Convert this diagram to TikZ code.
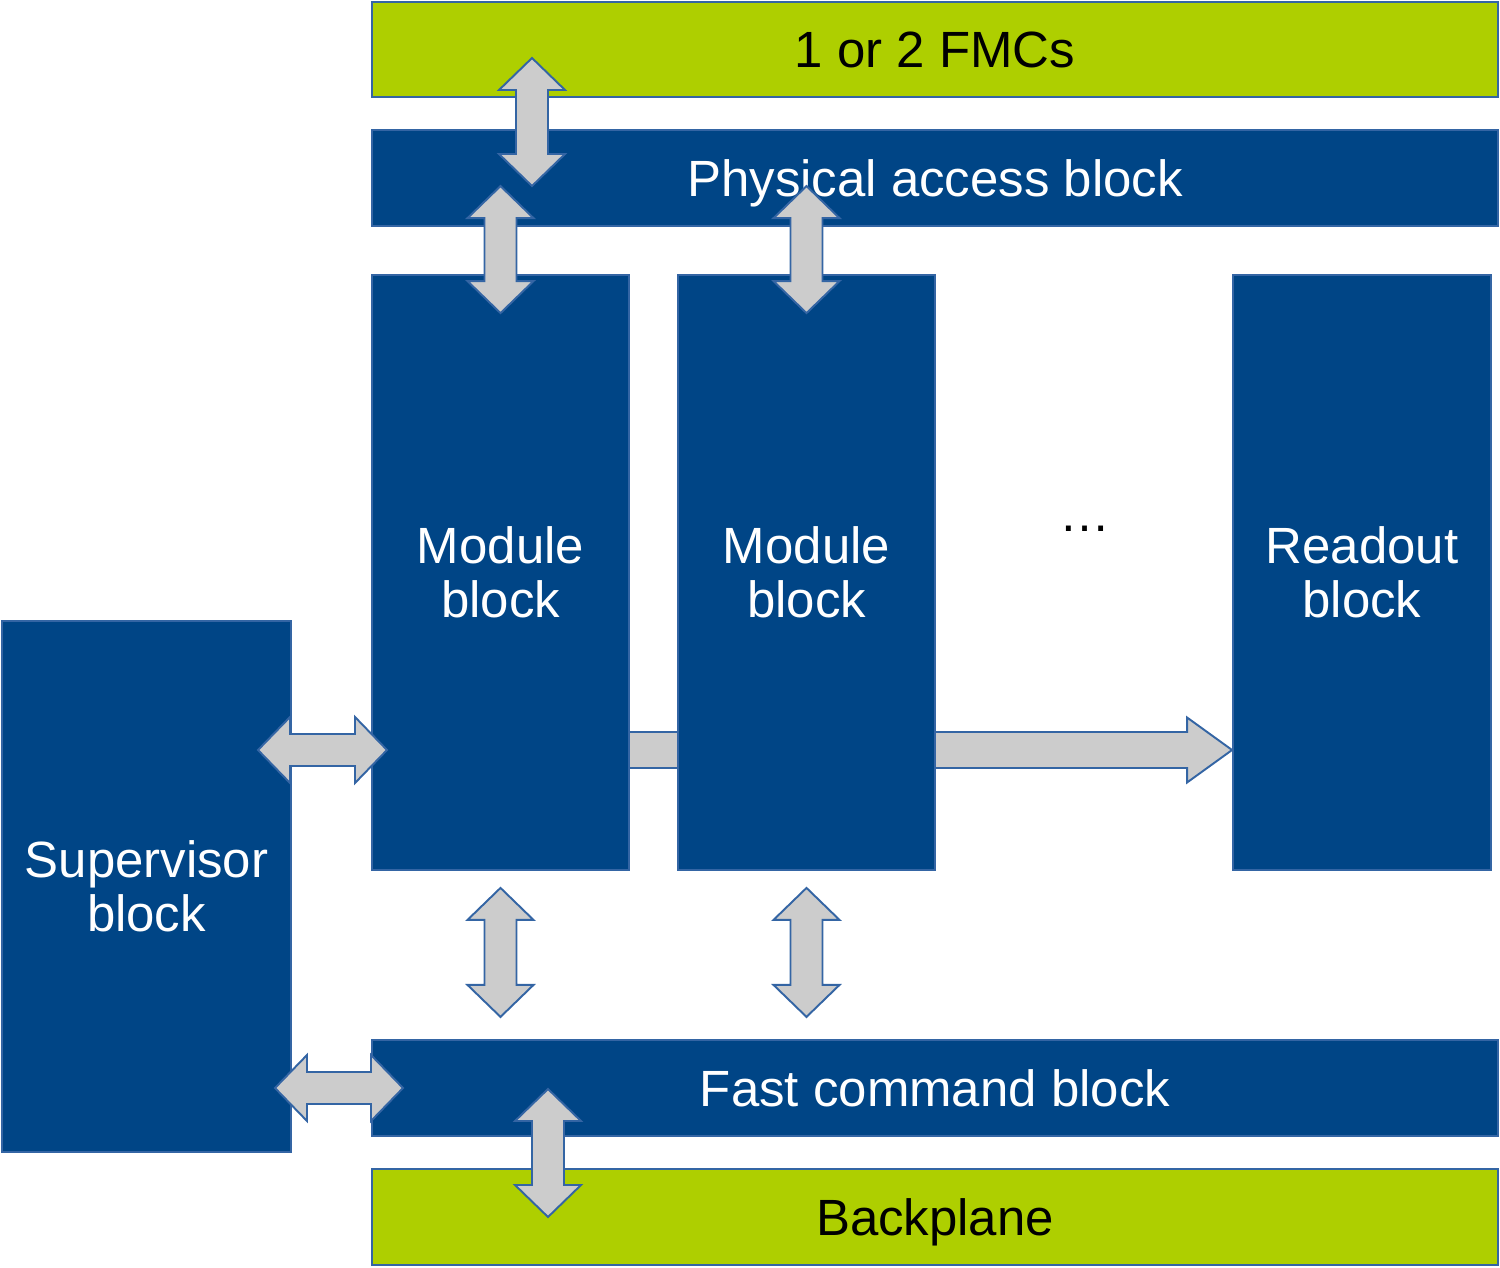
\documentclass[tikz,border=0pt]{standalone}
\usepackage{fontspec}
\setmainfont{Liberation Sans}
\usetikzlibrary{calc,backgrounds}

\definecolor{dkblue}{HTML}{004586}
\definecolor{edgeblue}{HTML}{3465A4}
\definecolor{limegreen}{HTML}{AECF00}
\definecolor{arrgray}{HTML}{CCCCCC}

\tikzset{
	blk/.style={draw=edgeblue, line width=1.1pt, fill=dkblue, text=white,
		align=center, inner sep=0pt, font=\fontsize{29}{31}\selectfont},
	bluebar/.style={blk, text depth=0pt, minimum width=22.52cm, minimum height=1.92cm},
	greenbar/.style={bluebar, fill=limegreen, text=black},
	fatarr/.style={draw=edgeblue, line width=1.1pt, fill=arrgray, line join=miter}
}

% fat double arrow between two points
\newcommand{\fatdbl}[2]{%
	\coordinate (fa) at (#1); \coordinate (fb) at (#2);
	\coordinate (ha) at ($(fa)!0.64cm!(fb)$);
	\coordinate (hb) at ($(fb)!0.64cm!(fa)$);
	\draw[fatarr] (fa) -- ($(ha)!0.66cm!90:(fb)$) -- ($(ha)!0.32cm!90:(fb)$)
		-- ($(hb)!0.32cm!-90:(fa)$) -- ($(hb)!0.66cm!-90:(fa)$) -- (fb)
		-- ($(hb)!0.66cm!90:(fa)$) -- ($(hb)!0.32cm!90:(fa)$)
		-- ($(ha)!0.32cm!-90:(fb)$) -- ($(ha)!0.66cm!-90:(fb)$) -- cycle;}
% fat single arrow, tip at the second point
\newcommand{\fatone}[2]{%
	\coordinate (fa) at (#1); \coordinate (fb) at (#2);
	\coordinate (hb) at ($(fb)!0.9cm!(fa)$);
	\draw[fatarr] ($(fa)!0.36cm!90:(fb)$) -- ($(hb)!0.36cm!-90:(fa)$)
		-- ($(hb)!0.65cm!-90:(fa)$) -- (fb) -- ($(hb)!0.65cm!90:(fa)$)
		-- ($(hb)!0.36cm!90:(fa)$) -- ($(fa)!0.36cm!-90:(fb)$) -- cycle;}

\begin{document}
\begin{tikzpicture}[x=0.02cm, y=-0.02cm]
	\useasboundingbox (0,0) rectangle (1500,1267);

	% bars
	\node[greenbar, minimum height=1.9cm] (fmc) at (935,49.5) {1 or 2 FMCs};
	\node[bluebar] (phys) at (935,178) {Physical access block};
	\node[bluebar] (fastcmd) at (935,1088) {Fast command block};
	\node[greenbar] (backpl) at (935,1217) {Backplane};

	% blocks
	\node[blk, minimum width=5.14cm, minimum height=11.9cm] (mod1) at (500.5,572.5) {Module\\block};
	\node[blk, minimum width=5.14cm, minimum height=11.9cm] (mod2) at (806.5,572.5) {Module\\block};
	\node[blk, minimum width=5.16cm, minimum height=11.9cm] (readout) at (1362,572.5) {Readout\\block};
	\node[blk, minimum width=5.78cm, minimum height=10.62cm] (super) at (146.5,886.5) {Supervisor\\block};
	\node[font=\fontsize{29}{31}\selectfont] (dots) at (1085,529) {\ldots};

	% data chain to readout
	\coordinate (chain) at (600,750);
	\begin{scope}[on background layer]
		\fatone{chain}{readout.west |- chain}
	\end{scope}

	% links
	\coordinate (fmcA) at (532,58);
	\coordinate (fmcB) at (532,186);
	\fatdbl{fmcA}{fmcB}
	\foreach \m in {mod1,mod2} {
		\fatdbl{$(\m.north)+(0,-88)$}{$(\m.north)+(0,39)$}
		\fatdbl{$(\m.south)+(0,17)$}{$(\m.south)+(0,146)$}
	}
	\coordinate (supA) at (258,750);
	\coordinate (supB) at (387,750);
	\fatdbl{supA}{supB}
	\coordinate (supC) at (275,1088);
	\coordinate (supD) at (403,1088);
	\fatdbl{supC}{supD}
	\coordinate (bpA) at (548,1089);
	\coordinate (bpB) at (548,1217);
	\fatdbl{bpA}{bpB}
\end{tikzpicture}
\end{document}
